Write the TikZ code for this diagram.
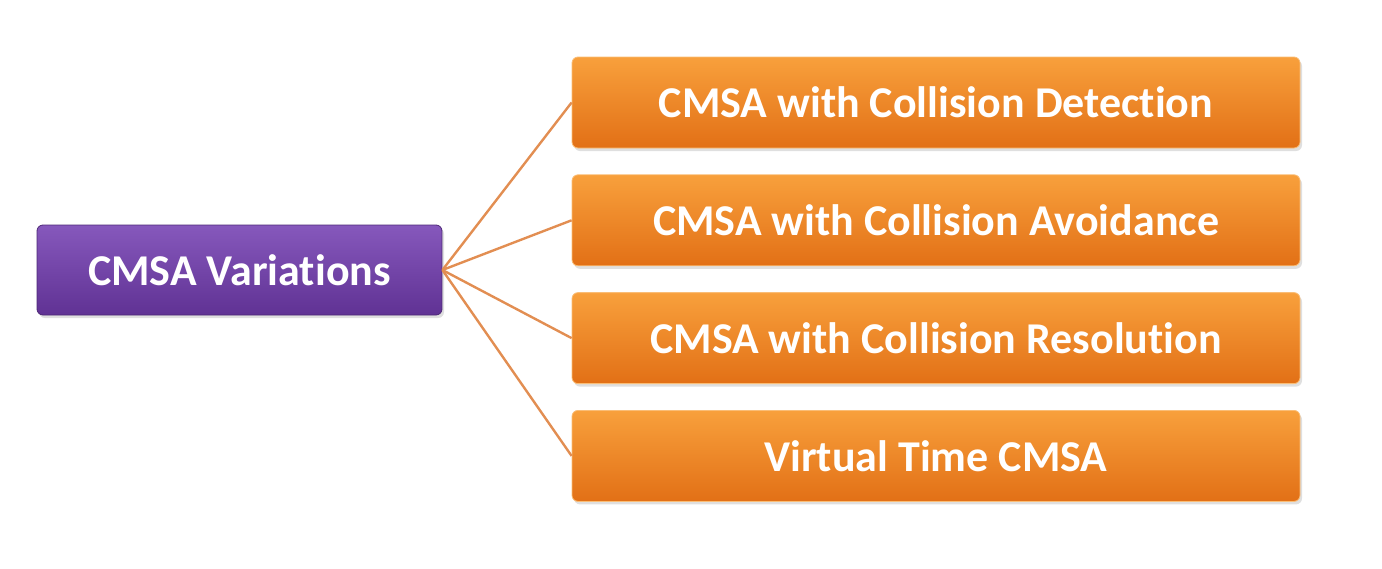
\documentclass[tikz,border=0pt]{standalone}
\usepackage{fontspec}
\setmainfont{Carlito}[Ligatures=NoCommon]
\usetikzlibrary{positioning,shadows}

\definecolor{vartop}{RGB}{134,88,188}
\definecolor{varbot}{RGB}{96,50,148}
\definecolor{kindtop}{RGB}{248,160,60}
\definecolor{kindbot}{RGB}{226,112,22}
\definecolor{linkcol}{RGB}{226,142,82}

\begin{document}
\begin{tikzpicture}[
  x=1pt, y=1pt,
  node distance=13pt,
  root/.style={draw=varbot!80!black, rounded corners=3pt, align=center,
    minimum width=202.5pt, minimum height=45pt, top color=vartop,
    bottom color=varbot, text=white, font=\fontsize{22}{26}\selectfont\bfseries,
    drop shadow={opacity=0.25, shadow xshift=1pt, shadow yshift=-1.5pt}},
  kind/.style={draw=kindtop!70!white, rounded corners=3pt, align=center,
    minimum width=364pt, minimum height=45.5pt, top color=kindtop,
    bottom color=kindbot, text=white, font=\fontsize{22}{26}\selectfont\bfseries,
    drop shadow={opacity=0.25, shadow xshift=1pt, shadow yshift=-1.5pt}},
  link/.style={draw=linkcol, line width=1.2pt}
]
\useasboundingbox (0,0) rectangle (691,-284);

\node[root] (var) at (119.75,-135) {CMSA Variations};
\node[kind] (detect) at (468,-51.25) {CMSA with Collision Detection};
\node[kind, below=of detect] (avoid) {CMSA with Collision Avoidance};
\node[kind, below=of avoid] (resolve) {CMSA with Collision Resolution};
\node[kind, below=of resolve] (vtime) {Virtual Time CMSA};

\draw[link] (var.east) -- (detect.west);
\draw[link] (var.east) -- (avoid.west);
\draw[link] (var.east) -- (resolve.west);
\draw[link] (var.east) -- (vtime.west);
\end{tikzpicture}
\end{document}
